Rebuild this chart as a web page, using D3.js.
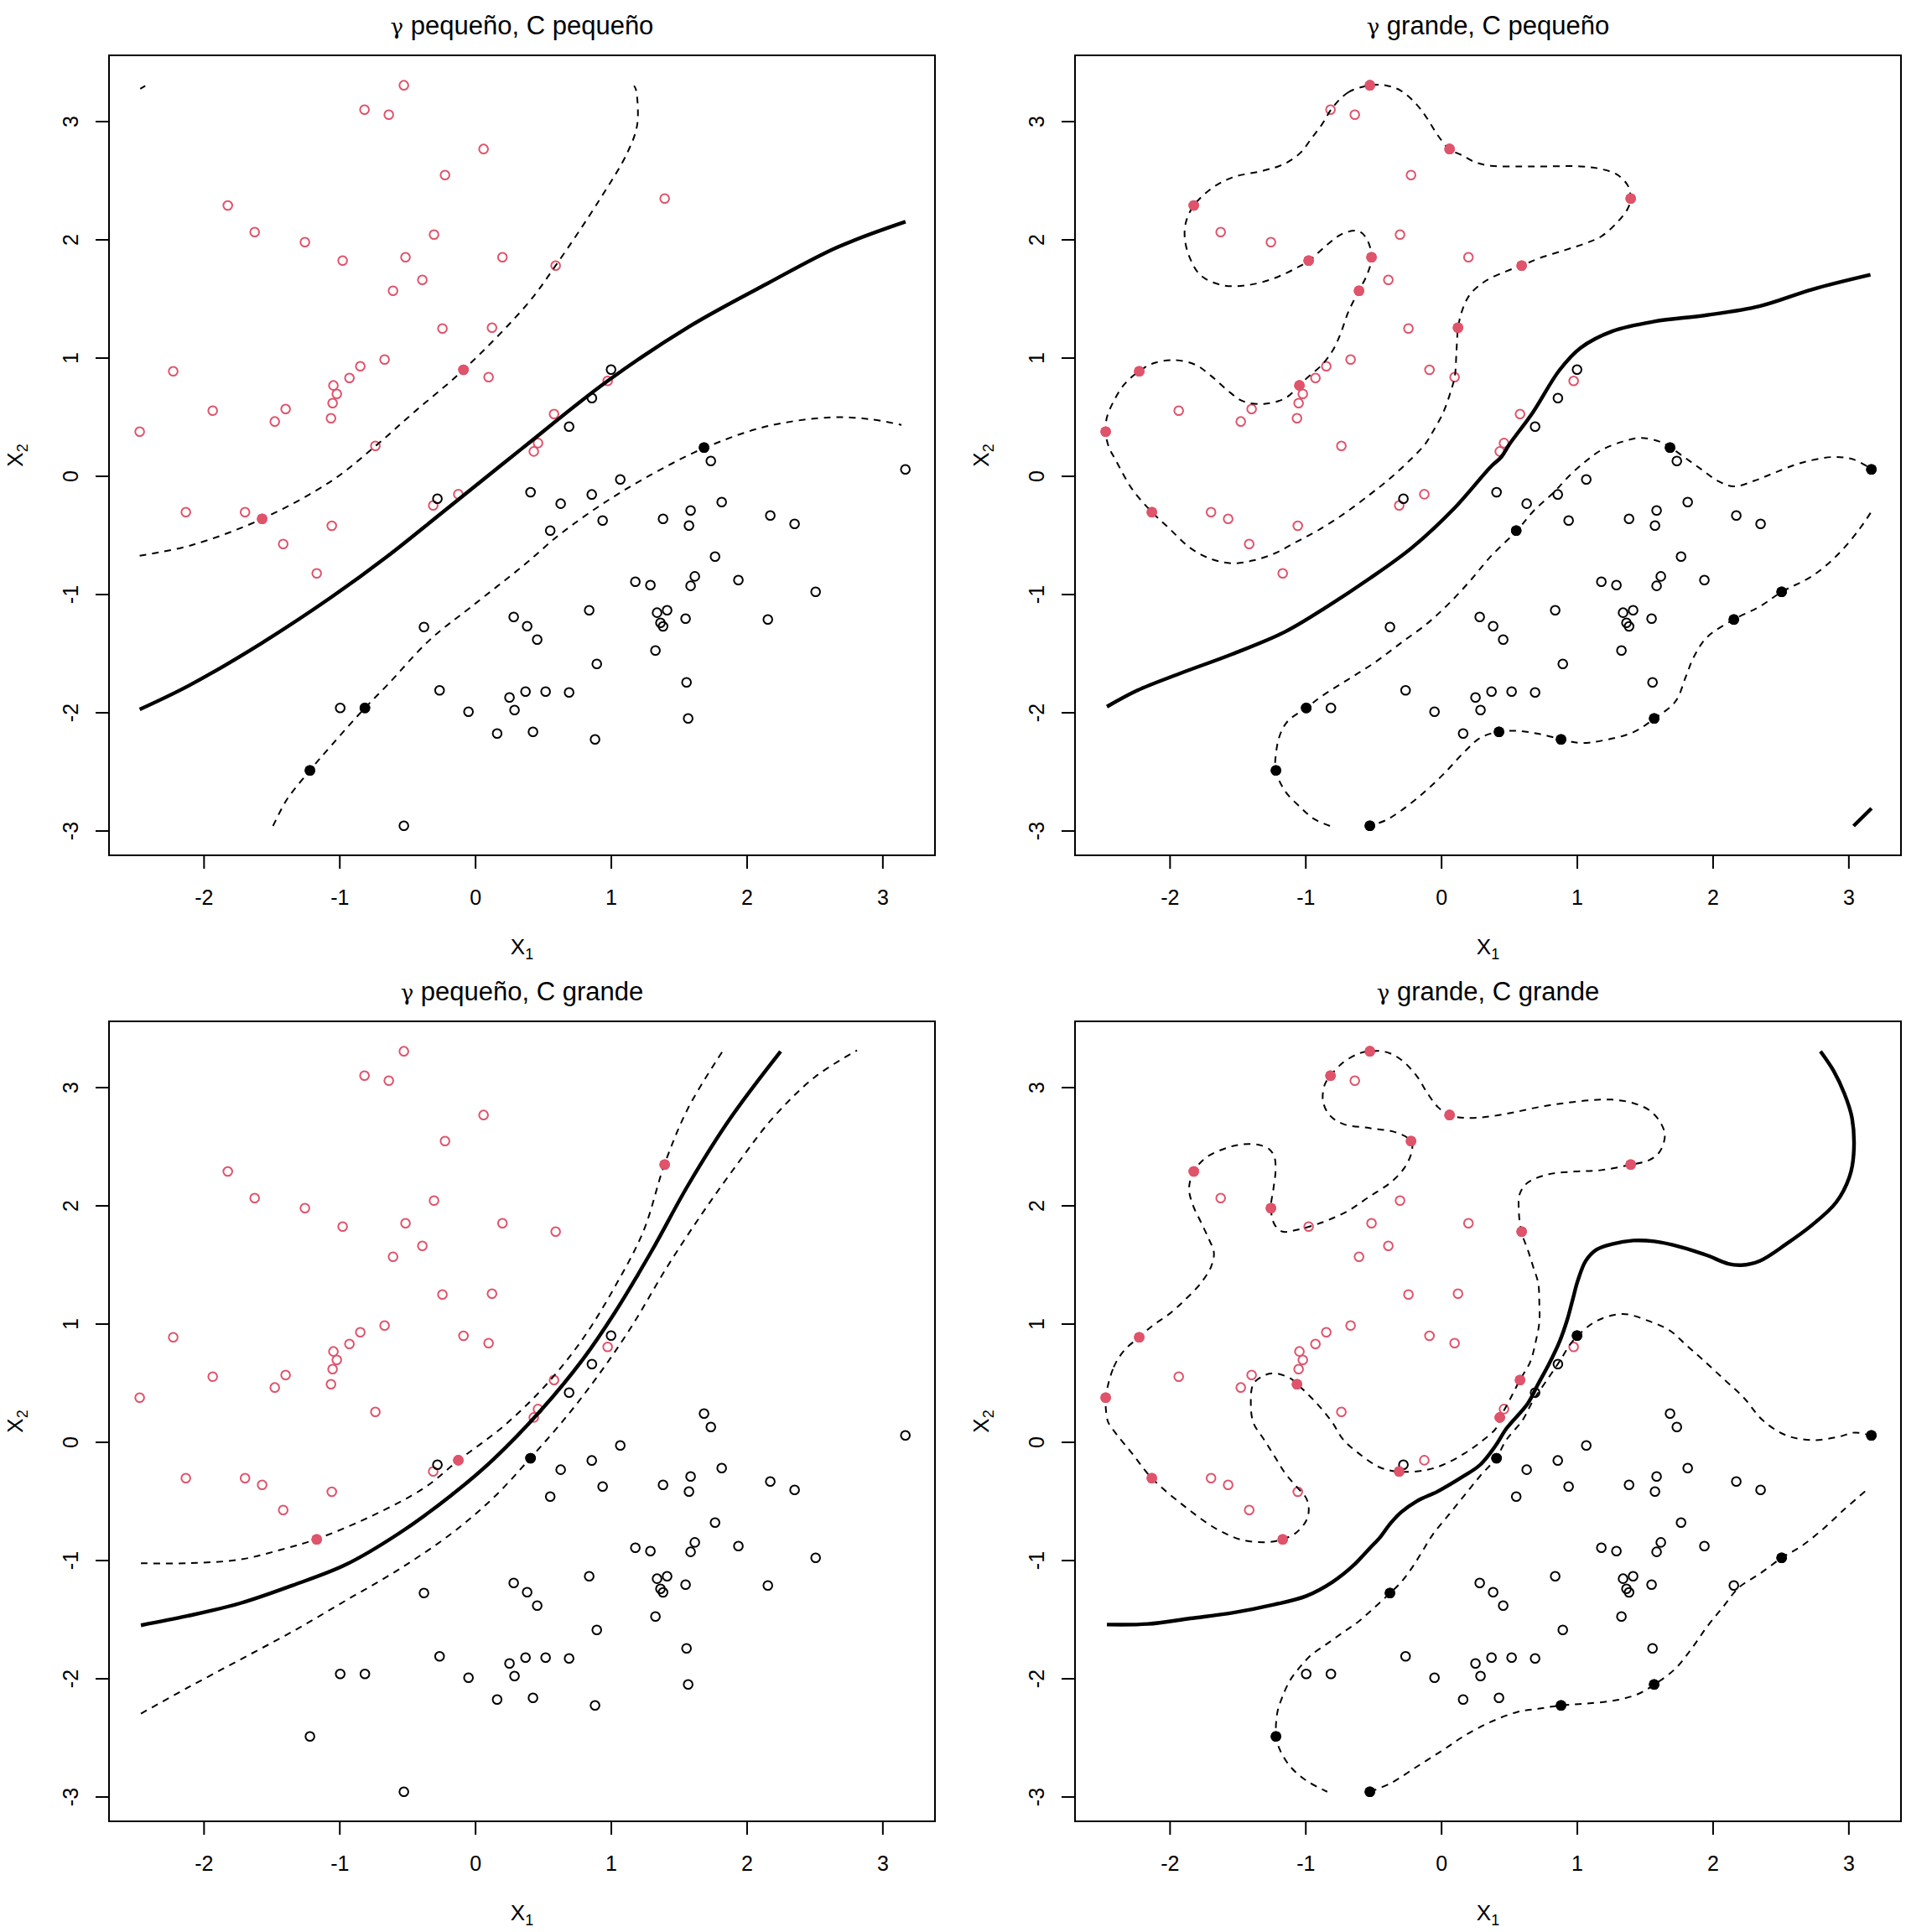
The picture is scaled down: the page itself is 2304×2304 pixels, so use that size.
<!DOCTYPE html>
<html><head><meta charset="utf-8">
<script src="https://cdn.jsdelivr.net/npm/d3@7"></script>
<style>body{margin:0;background:#fff}</style>
</head><body>
<script>
// ---------- data ----------
const panelGamma = ["γ", "γ", "γ", "γ"];
const panelTitles = [" pequeño, C pequeño", " grande, C pequeño", " pequeño, C grande", " grande, C grande"];
const xTicks = [-2, -1, 0, 1, 2, 3];
const yTicks = [-3, -2, -1, 0, 1, 2, 3];

// class +1 (red) observations
const redX = [-0.525,-0.815,-0.636,0.062,-0.222,-1.822,-1.624,-1.254,-0.976,-0.303,-0.513,0.201,-0.389,-0.605,-0.241,0.124,-0.086,0.099,-2.224,-0.667,-0.846,-0.926,-1.044,-1.019,-1.050,-1.062,-1.933,-1.396,-1.476,-2.471,-0.735,1.396,0.593,0.976,0.581,0.463,0.432,-2.131,-1.695,-1.569,-1.056,-1.414,-1.167,-0.309,-0.124];
const redY = [3.304,3.098,3.055,2.765,2.545,2.287,2.062,1.977,1.821,2.041,1.850,1.850,1.658,1.566,1.247,1.254,0.897,0.835,0.885,0.984,0.928,0.828,0.765,0.694,0.616,0.488,0.552,0.566,0.460,0.374,0.254,2.346,1.779,0.803,0.523,0.278,0.207,-0.306,-0.306,-0.363,-0.422,-0.576,-0.824,-0.250,-0.155];
// class -1 (black) observations
const blackX = [1.001,0.860,0.692,1.686,-0.278,-0.377,0.284,0.383,-0.262,-0.994,-0.812,-0.049,0.253,0.290,0.162,0.371,-1.217,-0.525,0.408,1.736,3.169,1.069,0.859,0.630,1.816,1.587,0.939,1.384,1.575,2.174,2.353,0.553,1.767,1.618,1.587,1.939,1.180,1.291,2.508,0.840,1.340,1.414,1.365,1.384,1.550,2.156,0.457,1.328,0.896,1.557,0.519,0.692,1.569,0.426,0.883];
const blackY = [0.899,0.658,0.417,0.240,-0.193,-1.278,-1.193,-1.271,-1.814,-1.963,-1.963,-1.994,-1.874,-1.980,-2.179,-1.824,-2.491,-2.959,-0.138,0.126,0.055,-0.030,-0.157,-0.235,-0.221,-0.292,-0.377,-0.363,-0.420,-0.335,-0.406,-0.462,-0.682,-0.850,-0.930,-0.881,-0.895,-0.923,-0.980,-1.136,-1.157,-1.136,-1.243,-1.273,-1.207,-1.214,-1.384,-1.477,-1.590,-1.746,-1.824,-1.831,-2.051,-2.165,-2.228];

// support vectors (indices) per panel
const svRed = [[16,39],[0,3,5,8,10,13,15,18,22,29,31,32,37],[31,42,44],[0,1,3,4,5,7,18,25,29,31,32,34,36,37,42,43]];
const svBlack = [[3,10,16],[3,9,16,17,20,31,38,45,52,53,54],[18],[0,5,16,17,18,20,38,52,54]];

// contour lines (decision boundary f=0 solid, margins f=±1 dashed), data units
const tlSolid = [[-2.471,-1.975],[-2.106,-1.772],[-1.571,-1.413],[-1.056,-1.023],[-0.645,-0.679],[-0.233,-0.301],[0.343,0.230],[0.976,0.803],[1.575,1.262],[2.151,1.626],[2.666,1.933],[3.170,2.150]];
const tlDashUp = [[-2.471,-0.675],[-2.086,-0.585],[-1.569,-0.363],[-1.056,-0.041],[-0.733,0.254],[-0.439,0.550],[-0.086,0.897],[0.380,1.448],[0.593,1.779],[0.916,2.335],[1.122,2.736],[1.194,2.973],[1.184,3.268],[1.170,3.300]];
const tlDashTip = [[-2.467,3.275],[-2.430,3.299]];
const tlDashLow = [[-1.489,-2.961],[-1.386,-2.736],[-1.217,-2.491],[-1.056,-2.275],[-0.812,-1.963],[-0.645,-1.767],[-0.336,-1.389],[-0.027,-1.105],[0.364,-0.750],[0.628,-0.491],[0.978,-0.207],[1.328,0.030],[1.686,0.235],[2.151,0.420],[2.625,0.495],[2.913,0.479],[3.140,0.431]];

const trSolid = [[-2.462,-1.952],[-2.237,-1.814],[-1.926,-1.672],[-1.538,-1.507],[-1.149,-1.318],[-0.839,-1.105],[-0.528,-0.869],[-0.217,-0.609],[0.093,-0.278],[0.365,0.077],[0.443,0.160],[0.502,0.266],[0.676,0.538],[0.870,0.892],[1.026,1.082],[1.259,1.223],[1.569,1.306],[1.958,1.360],[2.346,1.436],[2.735,1.578],[3.162,1.701]];
const trSolidTip = [[3.038,-2.961],[3.170,-2.812]];
const trLoopRed = [[-0.524,3.304],[-0.683,3.245],[-0.800,3.115],[-0.878,2.973],[-0.955,2.855],[-1.033,2.737],[-1.150,2.642],[-1.305,2.583],[-1.538,2.524],[-1.694,2.429],[-1.822,2.287],[-1.880,2.146],[-1.888,2.004],[-1.849,1.838],[-1.771,1.696],[-1.616,1.614],[-1.422,1.614],[-1.227,1.673],[-1.072,1.755],[-0.975,1.819],[-0.839,1.956],[-0.722,2.051],[-0.606,2.070],[-0.548,2.004],[-0.512,1.848],[-0.548,1.696],[-0.606,1.566],[-0.683,1.389],[-0.742,1.200],[-0.800,1.058],[-0.878,0.940],[-0.994,0.822],[-1.045,0.763],[-1.150,0.656],[-1.305,0.609],[-1.460,0.632],[-1.577,0.727],[-1.694,0.845],[-1.810,0.940],[-1.965,0.980],[-2.121,0.952],[-2.226,0.885],[-2.334,0.774],[-2.412,0.632],[-2.463,0.491],[-2.471,0.375],[-2.451,0.254],[-2.393,0.124],[-2.276,-0.112],[-2.132,-0.304],[-2.004,-0.443],[-1.849,-0.609],[-1.694,-0.703],[-1.538,-0.739],[-1.383,-0.715],[-1.227,-0.656],[-1.072,-0.561],[-0.916,-0.467],[-0.722,-0.325],[-0.528,-0.160],[-0.373,-0.018],[-0.217,0.148],[-0.120,0.266],[-0.062,0.373],[0.016,0.538],[0.074,0.727],[0.101,0.845],[0.113,1.058],[0.125,1.254],[0.152,1.389],[0.210,1.531],[0.327,1.649],[0.482,1.732],[0.591,1.777],[0.715,1.838],[0.910,1.909],[1.065,1.968],[1.181,2.027],[1.298,2.146],[1.376,2.264],[1.395,2.344],[1.376,2.453],[1.298,2.547],[1.181,2.595],[1.026,2.618],[0.793,2.618],[0.599,2.618],[0.366,2.623],[0.249,2.654],[0.152,2.713],[0.059,2.765],[-0.023,2.878],[-0.101,3.020],[-0.178,3.138],[-0.295,3.257],[-0.411,3.304]];
const trDashBlackA = [[-0.819,-2.961],[-0.936,-2.902],[-1.033,-2.807],[-1.150,-2.665],[-1.219,-2.488],[-1.215,-2.334],[-1.188,-2.193],[-1.130,-2.074],[-0.994,-1.963],[-0.878,-1.862],[-0.683,-1.720],[-0.489,-1.578],[-0.295,-1.412],[-0.101,-1.247],[0.055,-1.082],[0.210,-0.892],[0.366,-0.680],[0.556,-0.465],[0.677,-0.301],[0.832,-0.136],[0.948,0.006],[1.065,0.124],[1.181,0.219],[1.337,0.290],[1.473,0.321],[1.609,0.290],[1.687,0.242],[1.803,0.148],[1.920,0.053],[2.036,-0.041],[2.153,-0.089],[2.308,-0.041],[2.463,0.030],[2.658,0.112],[2.891,0.160],[3.046,0.136],[3.171,0.056]];
const trDashBlackB = [[3.163,-0.313],[3.085,-0.443],[2.930,-0.656],[2.736,-0.845],[2.510,-0.980],[2.347,-1.105],[2.156,-1.214],[1.958,-1.365],[1.861,-1.531],[1.803,-1.696],[1.725,-1.909],[1.570,-2.053],[1.414,-2.169],[1.181,-2.240],[1.026,-2.259],[0.886,-2.228],[0.715,-2.181],[0.560,-2.157],[0.428,-2.162],[0.288,-2.216],[0.171,-2.334],[0.016,-2.524],[-0.139,-2.689],[-0.295,-2.831],[-0.411,-2.914],[-0.524,-2.959]];

const blSolid = [[-2.462,-1.551],[-2.121,-1.473],[-1.732,-1.365],[-1.344,-1.213],[-0.955,-1.039],[-0.567,-0.778],[-0.178,-0.453],[0.133,-0.149],[0.482,0.264],[0.793,0.698],[1.026,1.089],[1.298,1.610],[1.570,2.174],[1.881,2.739],[2.250,3.303]];
const blDashUp = [[-2.462,-1.026],[-2.121,-1.026],[-1.732,-0.995],[-1.422,-0.909],[-1.169,-0.822],[-0.761,-0.626],[-0.373,-0.387],[-0.124,-0.157],[0.210,0.134],[0.521,0.481],[0.793,0.872],[1.026,1.306],[1.240,1.784],[1.395,2.348],[1.570,2.826],[1.822,3.303]];
const blDashLow = [[-2.462,-2.298],[-2.121,-2.081],[-1.732,-1.842],[-1.344,-1.603],[-0.955,-1.343],[-0.567,-1.082],[-0.178,-0.778],[0.133,-0.474],[0.408,-0.136],[0.677,0.220],[0.910,0.568],[1.143,0.959],[1.414,1.480],[1.687,1.957],[1.958,2.392],[2.192,2.739],[2.502,3.086],[2.813,3.312]];

const brSolid = [[2.794,3.304],[2.891,3.138],[2.969,2.949],[3.027,2.736],[3.038,2.429],[3.007,2.240],[2.910,2.027],[2.736,1.838],[2.541,1.673],[2.347,1.531],[2.211,1.495],[2.114,1.507],[1.958,1.578],[1.764,1.649],[1.570,1.696],[1.414,1.703],[1.259,1.673],[1.143,1.625],[1.065,1.531],[1.007,1.365],[0.968,1.200],[0.929,1.034],[0.871,0.845],[0.793,0.656],[0.715,0.491],[0.638,0.325],[0.482,0.115],[0.404,-0.027],[0.288,-0.193],[0.152,-0.299],[-0.023,-0.417],[-0.178,-0.500],[-0.295,-0.595],[-0.373,-0.689],[-0.450,-0.807],[-0.528,-0.902],[-0.645,-1.044],[-0.800,-1.185],[-0.994,-1.304],[-1.227,-1.375],[-1.538,-1.446],[-1.849,-1.493],[-2.160,-1.540],[-2.462,-1.545]];
const brLoopRed = [[-2.470,0.375],[-2.412,0.632],[-2.334,0.774],[-2.226,0.885],[-2.121,0.987],[-2.004,1.081],[-1.888,1.200],[-1.771,1.342],[-1.694,1.484],[-1.674,1.602],[-1.713,1.720],[-1.771,1.862],[-1.829,2.004],[-1.857,2.145],[-1.822,2.287],[-1.732,2.405],[-1.577,2.488],[-1.460,2.517],[-1.344,2.512],[-1.266,2.476],[-1.227,2.405],[-1.220,2.287],[-1.235,2.145],[-1.254,1.975],[-1.227,1.838],[-1.169,1.779],[-1.072,1.791],[-0.975,1.819],[-0.839,1.873],[-0.683,1.956],[-0.528,2.075],[-0.373,2.193],[-0.275,2.311],[-0.217,2.453],[-0.221,2.543],[-0.334,2.618],[-0.528,2.654],[-0.722,2.689],[-0.819,2.760],[-0.870,2.878],[-0.858,3.020],[-0.815,3.098],[-0.722,3.209],[-0.606,3.285],[-0.524,3.304],[-0.411,3.299],[-0.295,3.233],[-0.178,3.091],[-0.101,2.949],[-0.023,2.831],[0.059,2.765],[0.171,2.741],[0.327,2.748],[0.521,2.784],[0.715,2.831],[0.910,2.866],[1.104,2.890],[1.259,2.895],[1.414,2.866],[1.531,2.807],[1.609,2.713],[1.648,2.594],[1.609,2.453],[1.531,2.382],[1.395,2.344],[1.181,2.299],[0.987,2.287],[0.793,2.264],[0.638,2.193],[0.579,2.098],[0.572,1.956],[0.591,1.777],[0.638,1.625],[0.677,1.484],[0.715,1.342],[0.723,1.176],[0.723,1.011],[0.696,0.845],[0.657,0.679],[0.579,0.521],[0.502,0.349],[0.436,0.207],[0.404,0.115],[0.288,-0.004],[0.171,-0.098],[0.016,-0.193],[-0.120,-0.240],[-0.307,-0.252],[-0.450,-0.216],[-0.606,-0.098],[-0.722,0.020],[-0.800,0.162],[-0.897,0.301],[-0.975,0.396],[-1.060,0.488],[-1.111,0.538],[-1.227,0.580],[-1.305,0.561],[-1.383,0.491],[-1.402,0.325],[-1.383,0.162],[-1.305,0.020],[-1.227,-0.122],[-1.150,-0.264],[-1.072,-0.370],[-0.994,-0.476],[-0.975,-0.571],[-0.994,-0.666],[-1.072,-0.772],[-1.169,-0.824],[-1.266,-0.847],[-1.460,-0.831],[-1.655,-0.736],[-1.888,-0.547],[-2.132,-0.306],[-2.276,-0.098],[-2.393,0.067],[-2.451,0.162],[-2.462,0.207]];
const brDashBlackA = [[3.171,0.053],[3.046,0.079],[2.930,0.044],[2.736,0.015],[2.541,0.056],[2.366,0.186],[2.230,0.373],[2.075,0.538],[1.920,0.703],[1.803,0.821],[1.687,0.940],[1.531,1.022],[1.337,1.082],[1.143,1.022],[1.007,0.899],[0.948,0.821],[0.871,0.679],[0.774,0.514],[0.677,0.349],[0.599,0.183],[0.482,0.020],[0.404,-0.138],[0.288,-0.287],[0.171,-0.453],[0.055,-0.618],[-0.062,-0.784],[-0.139,-0.926],[-0.217,-1.068],[-0.295,-1.186],[-0.377,-1.280],[-0.489,-1.398],[-0.606,-1.517],[-0.722,-1.611],[-0.839,-1.706],[-0.955,-1.800],[-1.033,-1.895],[-1.111,-2.013],[-1.169,-2.155],[-1.208,-2.297],[-1.215,-2.491],[-1.188,-2.604],[-1.111,-2.746],[-0.994,-2.864],[-0.839,-2.959]];
const brDashBlackB = [[-0.524,-2.959],[-0.373,-2.888],[-0.178,-2.746],[0.016,-2.604],[0.171,-2.486],[0.366,-2.368],[0.560,-2.285],[0.715,-2.257],[0.886,-2.228],[1.065,-2.214],[1.298,-2.183],[1.453,-2.131],[1.570,-2.053],[1.725,-1.918],[1.842,-1.753],[1.958,-1.564],[2.075,-1.398],[2.192,-1.233],[2.347,-1.115],[2.510,-0.980],[2.658,-0.878],[2.813,-0.737],[2.969,-0.571],[3.124,-0.417]];

const panelContours = [
  [{p: tlSolid, s: 1}, {p: tlDashUp, s: 0}, {p: tlDashTip, s: 0}, {p: tlDashLow, s: 0}],
  [{p: trSolid, s: 1}, {p: trSolidTip, s: 1}, {p: trLoopRed, s: 0, c: 1}, {p: trDashBlackA, s: 0}, {p: trDashBlackB, s: 0}],
  [{p: blSolid, s: 1}, {p: blDashUp, s: 0}, {p: blDashLow, s: 0}],
  [{p: brSolid, s: 1}, {p: brLoopRed, s: 0, c: 1}, {p: brDashBlackA, s: 0}, {p: brDashBlackB, s: 0}]
];

// ---------- drawing ----------
const W = 2304, H = 2304;
const RED = "#DF536B";
const FONT = "'Liberation Sans', Arial, sans-serif";
const svg = d3.select("body").append("svg").attr("width", W).attr("height", H)
  .style("background", "#fff");

const L = 130, R = 1115, T = 66, B = 1020;
const x = d3.scaleLinear().domain([-2.697, 3.387]).range([L, R]);
const y = d3.scaleLinear().domain([-3.209, 3.557]).range([B, T]);
const offsets = [[0,0],[1152,0],[0,1152],[1152,1152]];

const red = redX.map((v,i) => [v, redY[i]]);
const black = blackX.map((v,i) => [v, blackY[i]]);

offsets.forEach((off, k) => {
  const g = svg.append("g").attr("transform", `translate(${off[0]},${off[1]})`);

  // open points
  g.append("g").selectAll("circle").data(red).join("circle")
    .attr("cx", d => x(d[0])).attr("cy", d => y(d[1])).attr("r", 5.3)
    .attr("fill", "none").attr("stroke", RED).attr("stroke-width", 2);
  g.append("g").selectAll("circle").data(black).join("circle")
    .attr("cx", d => x(d[0])).attr("cy", d => y(d[1])).attr("r", 5.3)
    .attr("fill", "none").attr("stroke", "#000").attr("stroke-width", 2);

  // contours
  panelContours[k].forEach(c => {
    const line = d3.line().x(d => x(d[0])).y(d => y(d[1]))
      .curve(c.c ? d3.curveCatmullRomClosed.alpha(0.5) : d3.curveCatmullRom.alpha(0.5));
    g.append("path").attr("d", line(c.p)).attr("fill", "none")
      .attr("stroke", "#000")
      .attr("stroke-width", c.s ? 4.4 : 2.0)
      .attr("stroke-dasharray", c.s ? null : "8,7")
      .attr("stroke-linejoin", "round");
  });

  // support vectors (filled)
  g.append("g").selectAll("circle").data(svRed[k].map(i => red[i])).join("circle")
    .attr("cx", d => x(d[0])).attr("cy", d => y(d[1])).attr("r", 6.3).attr("fill", RED);
  g.append("g").selectAll("circle").data(svBlack[k].map(i => black[i])).join("circle")
    .attr("cx", d => x(d[0])).attr("cy", d => y(d[1])).attr("r", 6.3).attr("fill", "#000");

  // box
  g.append("rect").attr("x", L).attr("y", T).attr("width", R - L).attr("height", B - T)
    .attr("fill", "none").attr("stroke", "#000").attr("stroke-width", 2);

  // x axis
  const ax = g.append("g").attr("transform", `translate(0,${B})`)
    .call(d3.axisBottom(x).tickValues(xTicks).tickSize(16).tickPadding(25).tickFormat(d => String(d)));
  ax.select(".domain").remove();
  ax.selectAll("line").attr("stroke-width", 2);
  ax.selectAll("text").attr("font-size", 25).attr("font-family", FONT).attr("fill", "#000");

  // y axis
  const ay = g.append("g").attr("transform", `translate(${L},0)`)
    .call(d3.axisLeft(y).tickValues(yTicks).tickSize(16).tickFormat(d => String(d)));
  ay.select(".domain").remove();
  ay.selectAll("line").attr("stroke-width", 2);
  ay.selectAll("text").attr("x", null).attr("dy", null)
    .attr("transform", "translate(-37,0) rotate(-90)")
    .attr("text-anchor", "middle")
    .attr("font-size", 25).attr("font-family", FONT).attr("fill", "#000");

  // title
  const tt = g.append("text").attr("x", (L + R) / 2).attr("y", 41).attr("text-anchor", "middle")
    .attr("font-size", 31).attr("font-family", FONT).attr("fill", "#000");
  tt.append("tspan").attr("font-family", "'DejaVu Serif', serif").attr("font-size", 26).text(panelGamma[k]);
  tt.append("tspan").text(panelTitles[k]);

  // axis labels
  const xl = g.append("text").attr("x", (L + R) / 2).attr("y", 1138).attr("text-anchor", "middle")
    .attr("font-size", 26).attr("font-family", FONT).attr("fill", "#000");
  xl.append("tspan").text("X");
  xl.append("tspan").attr("font-size", 18).attr("dy", 6).text("1");

  const yl = g.append("text").attr("transform", `translate(27,${(T + B) / 2}) rotate(-90)`)
    .attr("text-anchor", "middle")
    .attr("font-size", 26).attr("font-family", FONT).attr("fill", "#000");
  yl.append("tspan").text("X");
  yl.append("tspan").attr("font-size", 18).attr("dy", 6).text("2");
});
</script>
</body></html>
